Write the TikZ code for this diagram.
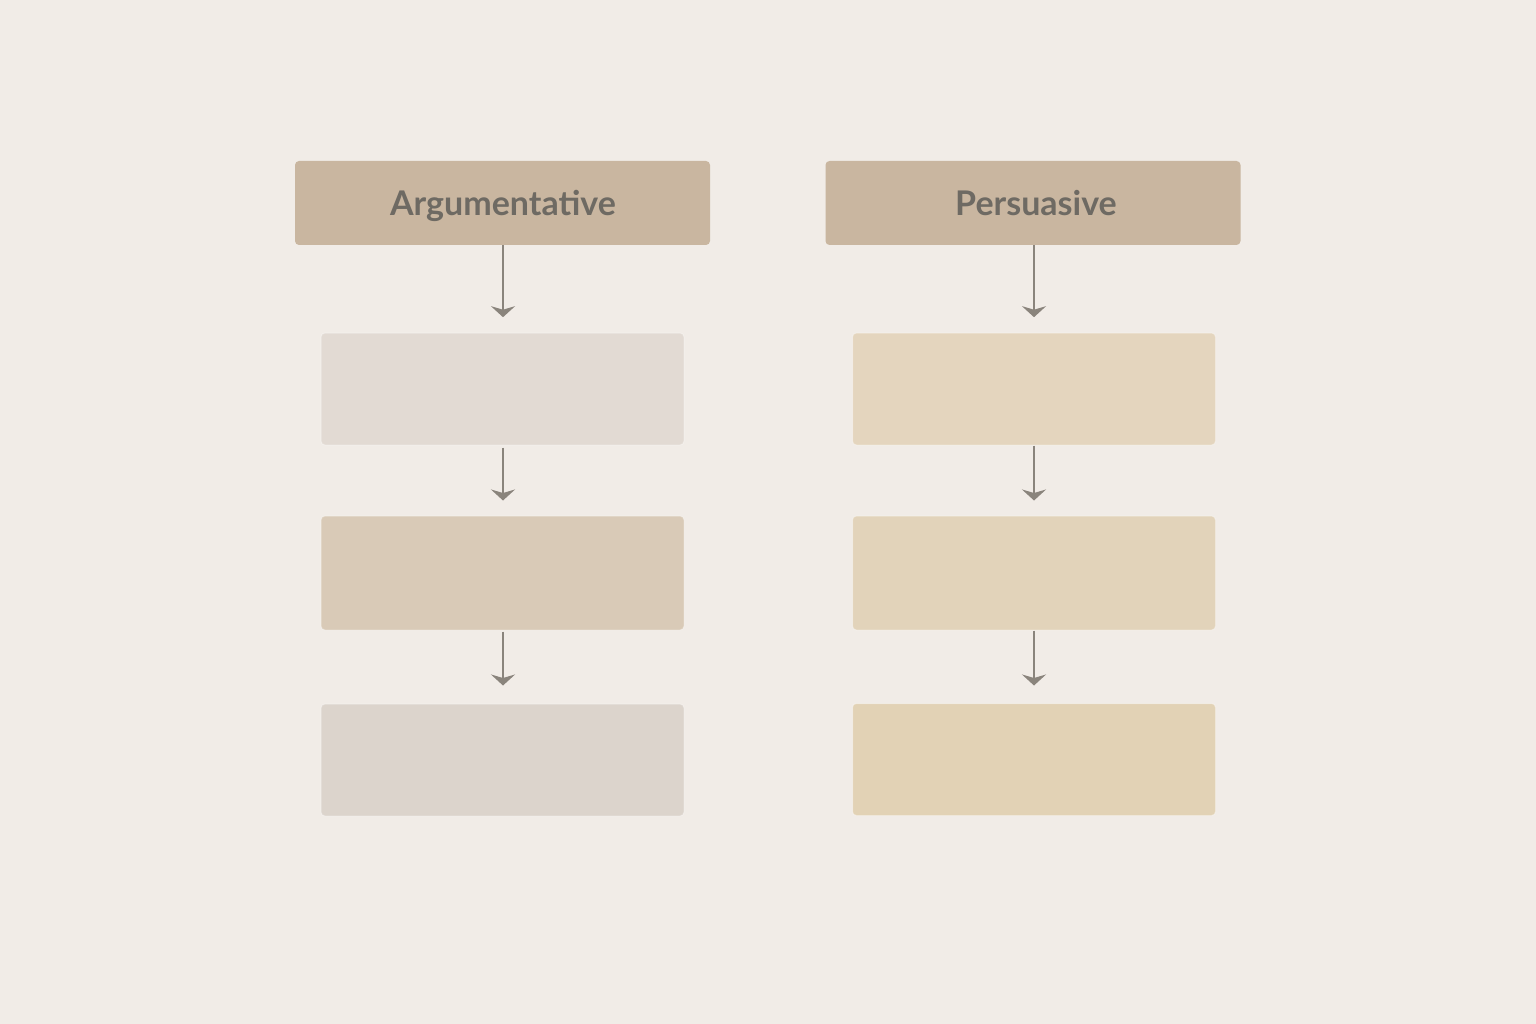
\documentclass[tikz,border=0pt]{standalone}
\usepackage{fontspec}
\setmainfont{Lato}
\usetikzlibrary{arrows.meta}
\definecolor{bg}{HTML}{F1ECE7}
\definecolor{hdr}{HTML}{C9B6A0}
\definecolor{txt}{HTML}{6E6A63}
\definecolor{arr}{HTML}{8A847C}
\definecolor{la}{HTML}{E2DAD3}
\definecolor{lb}{HTML}{D9CAB7}
\definecolor{lc}{HTML}{DCD4CC}
\definecolor{ra}{HTML}{E4D5BE}
\definecolor{rb}{HTML}{E2D3BA}
\definecolor{rc}{HTML}{E2D2B5}
\tikzset{
  hdrbox/.style={fill=hdr, rounded corners=4pt, minimum width=415pt, minimum height=84pt, inner sep=0pt, text=txt, font=\fontsize{34}{40}\selectfont\bfseries},
  hdrtext/.style={inner sep=0pt, text=txt, font=\fontsize{34}{40}\selectfont\bfseries, anchor=base},
  stagebox/.style={rounded corners=4pt, minimum width=363pt, minimum height=112pt, inner sep=0pt, draw=white, draw opacity=0.35, line width=1pt},
  flow/.style={draw=arr, line width=2pt, -{Stealth[length=11pt,width=24pt,inset=3.5pt]}}
}
\begin{document}
\begin{tikzpicture}[x=1pt,y=-1pt]
\useasboundingbox[fill=bg] (0,0) rectangle (1536,1024);
% left column
\node[hdrbox] (h1) at (502.5,203) {};
\node[hdrtext] (t1) at (503,216) {Argumentative};
\node[stagebox, fill=la] (a1) at (502.5,389) {};
\node[stagebox, fill=lb, minimum height=114pt] (a2) at (502.5,573) {};
\node[stagebox, fill=lc] (a3) at (502.5,760) {};
% right column
\node[hdrbox] (h2) at (1033,203) {};
\node[hdrtext] (t2) at (1036,216) {Persuasive};
\node[stagebox, fill=ra] (b1) at (1034,389) {};
\node[stagebox, fill=rb, minimum height=114pt] (b2) at (1034,573) {};
\node[stagebox, fill=rc] (b3) at (1034,759.5) {};
% arrows
\draw[flow] (h1.south) ++(0.5,0) -- ++(0,72);
\draw[flow] (a1.south) ++(0.5,2) -- ++(0,53);
\draw[flow] (a2.south) ++(0.5,1) -- ++(0,54);
\draw[flow] (h2.south) ++(1,0) -- ++(0,72);
\draw[flow] (b1.south) -- ++(0,55);
\draw[flow] (b2.south) -- ++(0,55);
\end{tikzpicture}
\end{document}
